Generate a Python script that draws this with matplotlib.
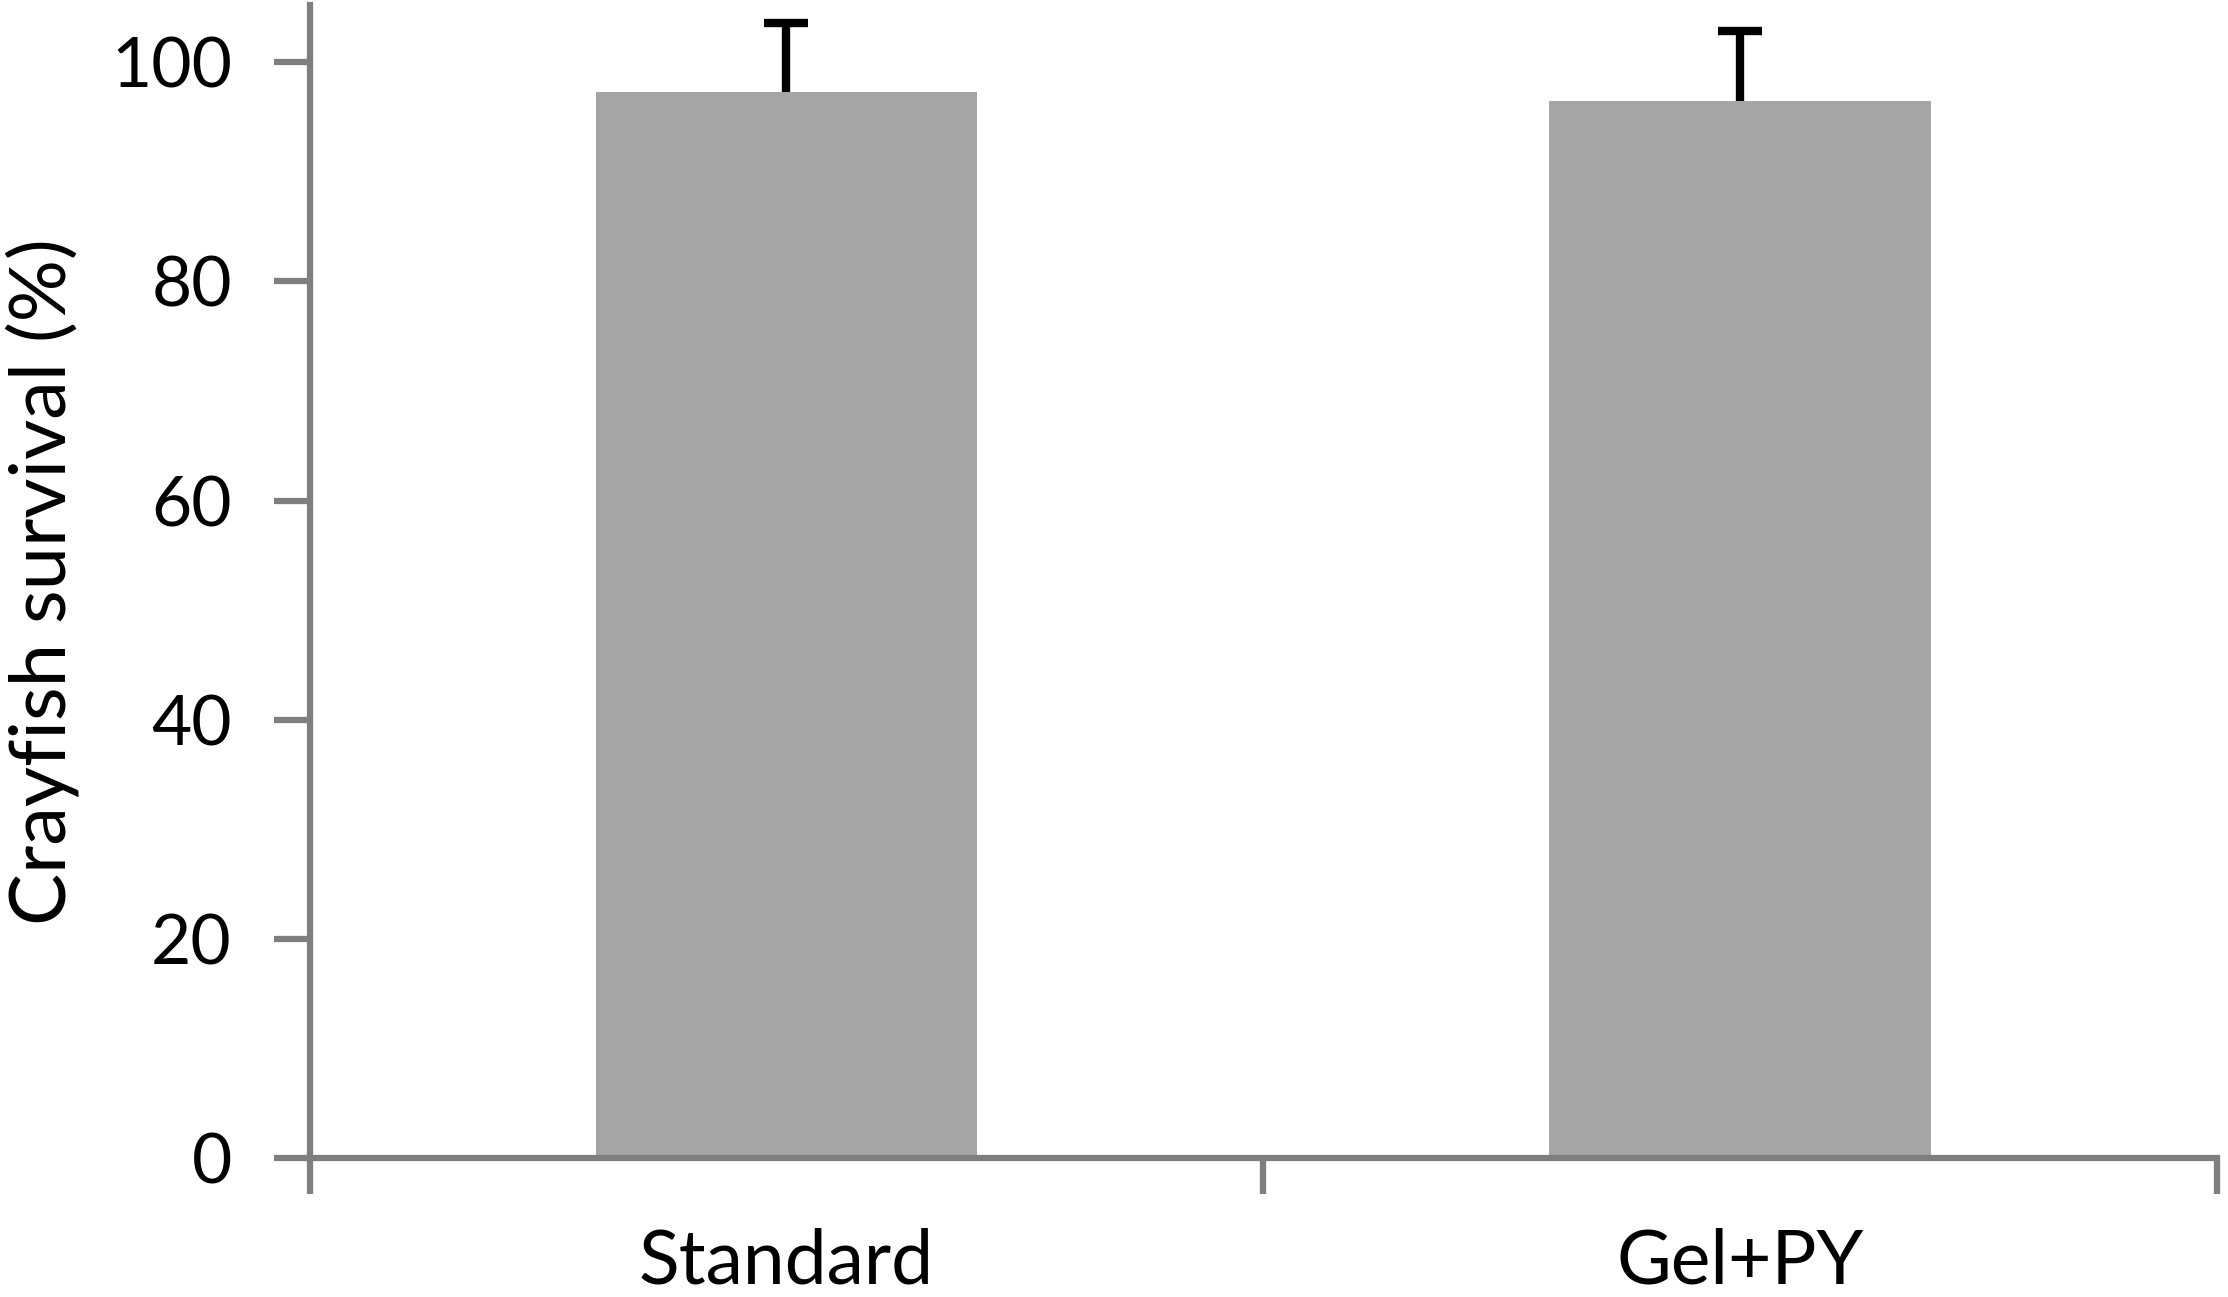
import matplotlib
matplotlib.use("Agg")
import matplotlib.pyplot as plt
import numpy as np

# data
groups = ["Standard", "Gel+PY"]
survival = [97.3, 96.5]
sem = [6.3, 6.3]

plt.rcParams['font.family'] = ['Lato', 'DejaVu Sans']

fig = plt.figure(figsize=(22.28, 12.97), dpi=100)
ax = fig.add_axes([0.139, 0.107, 0.856, 0.889])

x = np.arange(len(groups))
ax.bar(x, survival, width=0.4, color='#a5a5a5', zorder=2)
eb = ax.errorbar(x, survival, yerr=[np.zeros(len(sem)), sem], fmt='none',
                 ecolor='black', elinewidth=6, capsize=16, capthick=6, zorder=3)
# only the upper cap, as in the original
eb[1][0].set_visible(False)

ax.set_xlim(-0.5, len(groups) - 0.5)
ax.set_ylim(0, 105.2)
ax.set_yticks([0, 20, 40, 60, 80, 100])
ax.set_xticks(x)
ax.set_xticklabels(groups)
# boundary ticks like excel's "between categories"
ax.set_xticks(np.arange(len(groups) + 1) - 0.5, minor=True)

for side in ['top', 'right']:
    ax.spines[side].set_visible(False)
for side in ['left', 'bottom']:
    ax.spines[side].set_color('#7f7f7f')
    ax.spines[side].set_linewidth(4.5)

ax.tick_params(axis='y', direction='out', length=26, width=4.5, color='#7f7f7f',
               pad=30, labelsize=50)
ax.tick_params(axis='x', which='major', length=0, pad=50, labelsize=54)
ax.tick_params(axis='x', which='minor', direction='out', length=26, width=4.5,
               color='#7f7f7f')

ax.set_ylabel("Crayfish survival (%)", fontsize=56)
ax.yaxis.set_label_coords(-0.14, 0.5)
ax.yaxis.label.set_va('center')

fig.savefig("out.png", dpi=100)
